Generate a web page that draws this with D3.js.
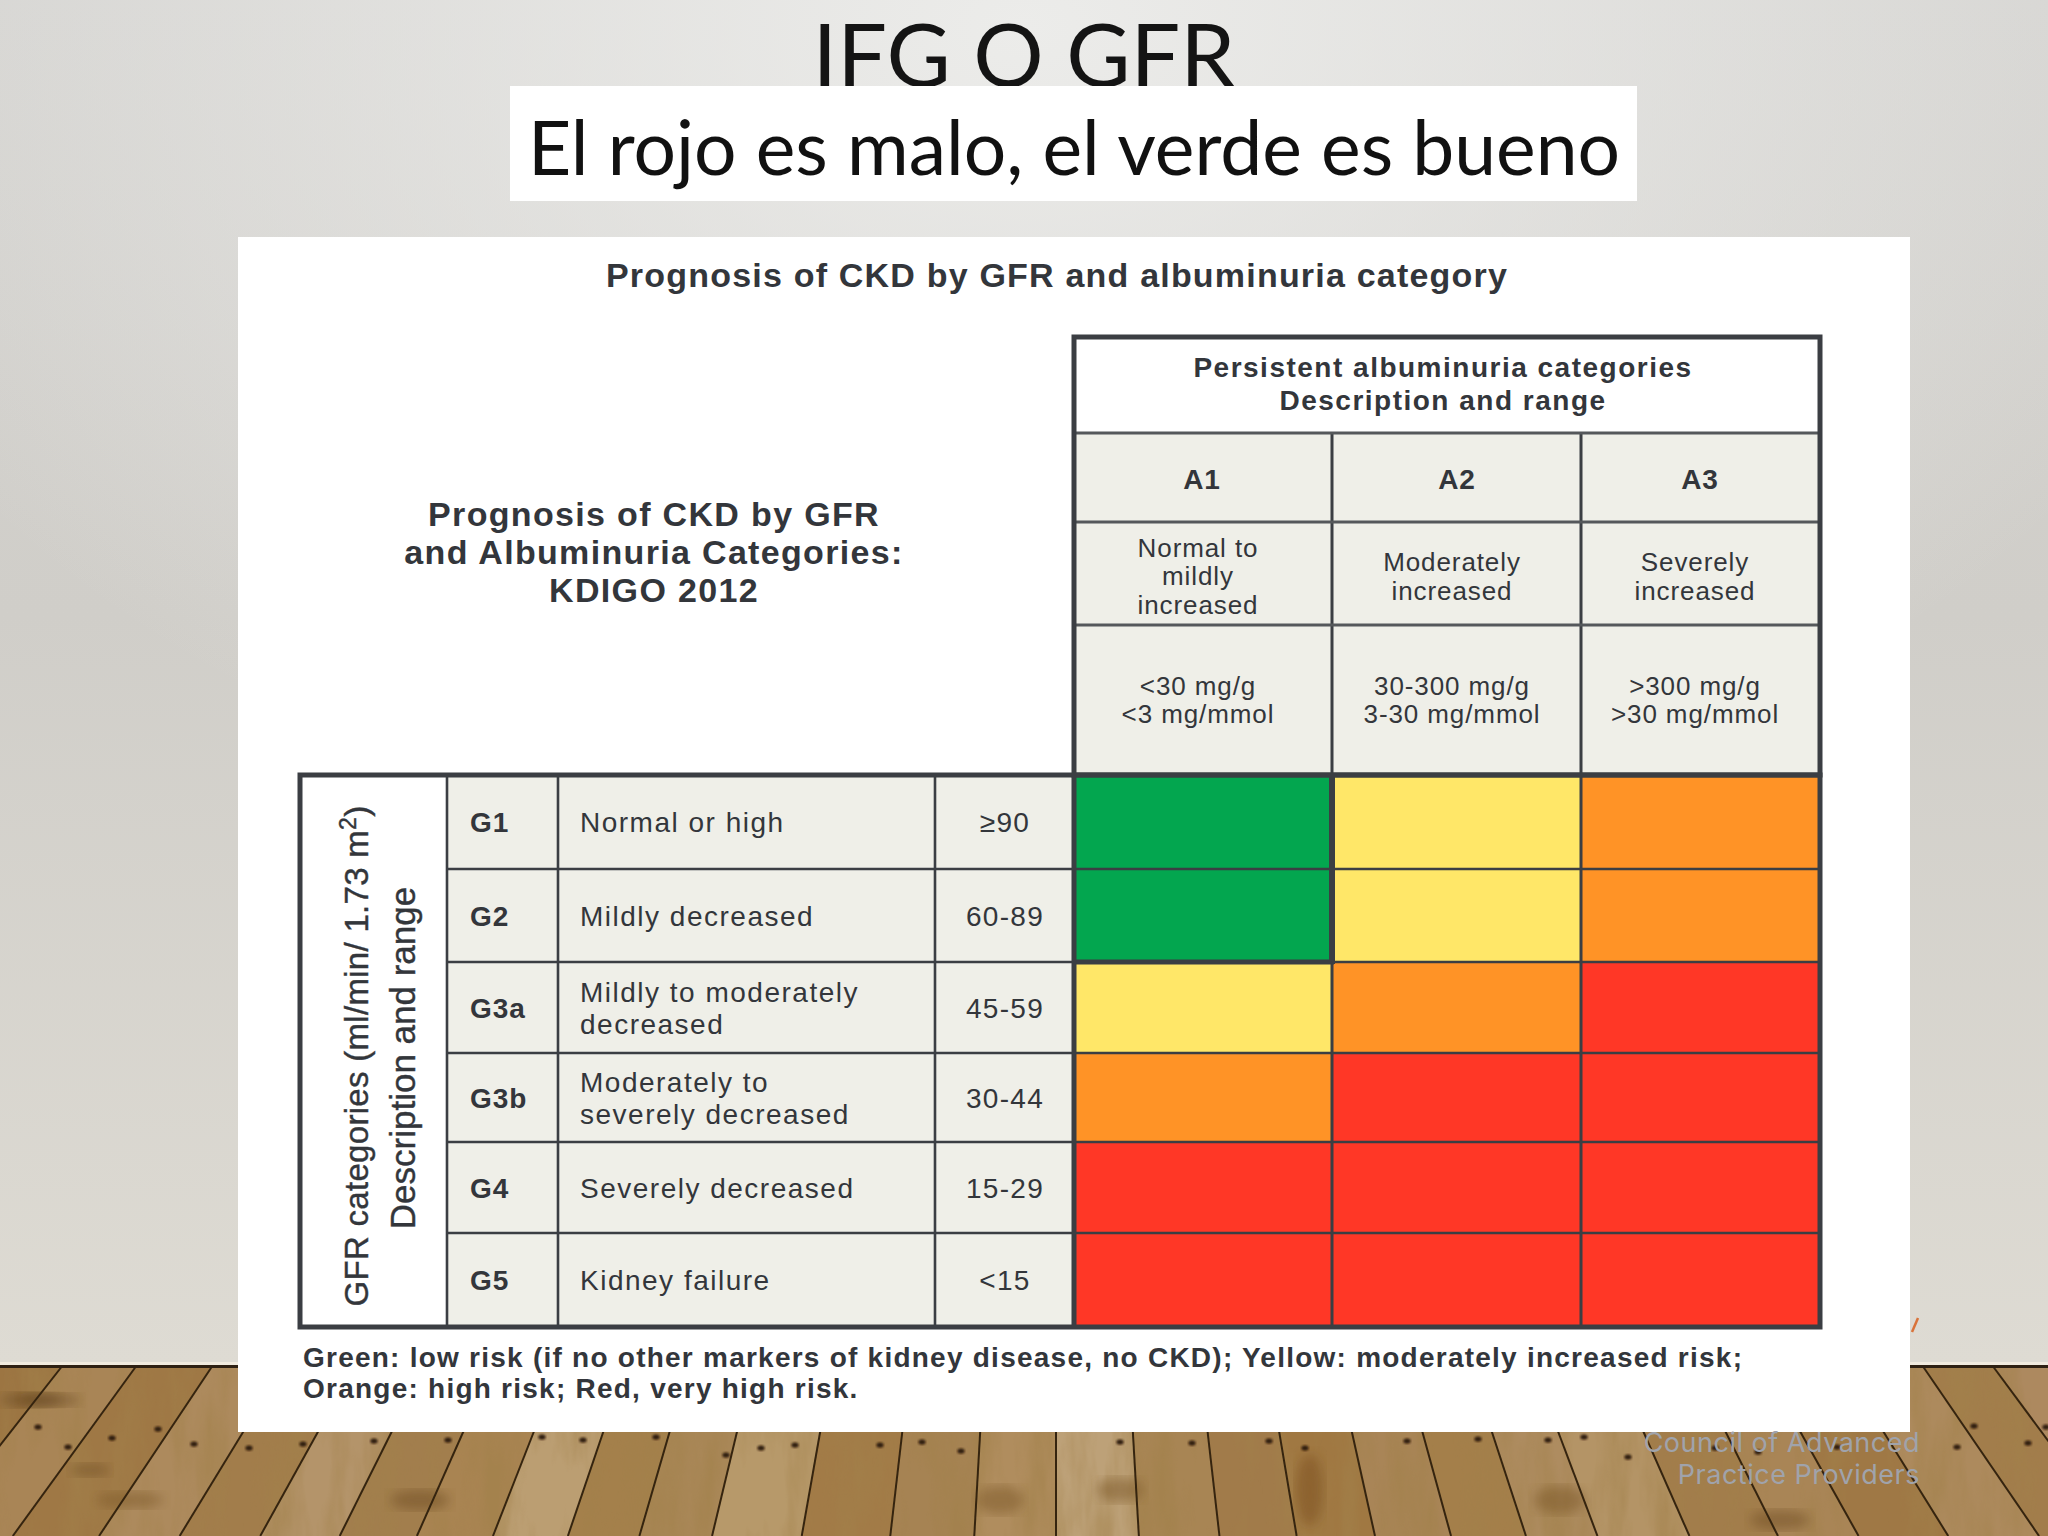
<!DOCTYPE html>
<html>
<head>
<meta charset="utf-8">
<script src="https://cdn.jsdelivr.net/npm/d3@7"></script>
<style>
  html, body { margin: 0; padding: 0; background: #d8d6d1; }
  svg { display: block; }
</style>
</head>
<body>
<div id="slide"></div>
<script>
const slideTitle = "IFG O GFR";
const slideSubtitle = "El rojo es malo, el verde es bueno";
const figureTitle = "Prognosis of CKD by GFR and albuminuria category";
const cornerTitle = ["Prognosis of CKD by GFR", "and Albuminuria Categories:", "KDIGO 2012"];
const albuminuriaHeading = ["Persistent albuminuria categories", "Description and range"];
const albuminuriaCategories = ["A1", "A2", "A3"];
const albuminuriaLabels = [["Normal to", "mildly", "increased"], ["Moderately", "increased"], ["Severely", "increased"]];
const albuminuriaRanges = [["<30 mg/g", "<3 mg/mmol"], ["30-300 mg/g", "3-30 mg/mmol"], [">300 mg/g", ">30 mg/mmol"]];
const gfrCategories = ["G1", "G2", "G3a", "G3b", "G4", "G5"];
const gfrLabels = [["Normal or high"], ["Mildly decreased"], ["Mildly to moderately", "decreased"], ["Moderately to", "severely decreased"], ["Severely decreased"], ["Kidney failure"]];
const gfrRanges = ["\u226590", "60-89", "45-59", "30-44", "15-29", "<15"];
const riskNames = ["low", "moderate", "high", "veryHigh"];
const riskColors = ["#03a64f", "#ffe768", "#ff9326", "#ff3726"];
// one row per GFR category, one value per albuminuria category
const riskG1 = ["low", "moderate", "high"];
const riskG2 = ["low", "moderate", "high"];
const riskG3a = ["moderate", "high", "veryHigh"];
const riskG3b = ["high", "veryHigh", "veryHigh"];
const riskG4 = ["veryHigh", "veryHigh", "veryHigh"];
const riskG5 = ["veryHigh", "veryHigh", "veryHigh"];
const riskRows = [riskG1, riskG2, riskG3a, riskG3b, riskG4, riskG5];
const legendLines = [
  "Green: low risk (if no other markers of kidney disease, no CKD); Yellow: moderately increased risk;",
  "Orange: high risk; Red, very high risk."
];
const watermark = ["Council of Advanced", "Practice Providers"];

// floor: plank seams as offsets from the vertical seam at the wall line
const seamOffsets = [-1140, -1065, -993, -919, -843, -772, -701, -631, -563, -496, -430, -367, -303, -224, -146, -72, 0, 73, 144, 212, 281, 348, 414, 477, 558, 636, 707, 786, 866, 936, 1010];
const plankTones = ["#a07a48", "#9c7542", "#a98556", "#9f7845", "#ad8a5d", "#a27d4b", "#b4946a", "#a27e4d", "#a98452", "#bb9e72", "#a4804b", "#a98757", "#b7996a", "#a27b47", "#a68353", "#b08d5e", "#bda178", "#a88554", "#a17b4a", "#a07842", "#a98557", "#a47f4a", "#ae8c60", "#b49466", "#a27d4b", "#a98556", "#9f7845", "#ad8a5d", "#a27d4b", "#ad895f"];
const knotsX = [38, 68, 112, 158, 194, 249, 303, 374, 448, 542, 583, 656, 726, 761, 795, 880, 922, 961, 1120, 1192, 1269, 1305, 1407, 1478, 1548, 1584, 1628, 1715, 1758, 1837, 1957, 1974, 2028, 2046];
const knotsY = [1427, 1447, 1438, 1429, 1444, 1448, 1444, 1441, 1440, 1437, 1440, 1437, 1455, 1448, 1445, 1445, 1442, 1451, 1442, 1443, 1441, 1448, 1441, 1439, 1440, 1437, 1457, 1448, 1452, 1447, 1447, 1426, 1443, 1427];
const stainsX = [30, 50, 130, 420, 90, 1310, 1000, 1120, 1560, 1780];
const stainsY = [1400, 1400, 1500, 1500, 1470, 1490, 1500, 1490, 1500, 1520];
const stainsW = [30, 30, 34, 30, 20, 14, 24, 24, 26, 30];
const stainsH = [7, 6, 8, 10, 6, 36, 14, 12, 14, 10];
const stainTones = ["#5e3f1a", "#5e3f1a", "#7a5626", "#6e4c20", "#6a4a20", "#7a4e1c", "#7a5626", "#7a5626", "#7a5626", "#6e4c20"];

const width = 2048, height = 1536;
const inkColor = "#33363b", gridColor = "#3b3e43", cellColor = "#efefe8";
const sans = "'Liberation Sans', Arial, sans-serif";
const titleFont = "Lato, 'Open Sans', sans-serif";

const x = d3.scaleLinear().domain([0, 1, 2, 3]).range([1074, 1332, 1581, 1820]);
const y = d3.scaleLinear().domain([0, 1, 2, 3, 4, 5, 6]).range([775, 869, 962, 1053, 1142, 1233, 1327]);
const riskColor = d3.scaleOrdinal(riskNames, riskColors);
const headerY = d3.scaleOrdinal(["top", "heading", "code", "label", "range"], [337, 433, 522, 625, 775]);
const gfrColX = d3.scaleOrdinal(["side", "code", "label", "range", "end"], [300, 447, 558, 935, 1074]);

const svg = d3.select("#slide").append("svg").attr("width", width).attr("height", height);
const defs = svg.append("defs");

const wallBase = defs.append("linearGradient").attr("id", "wallBase").attr("x1", 0).attr("x2", 0).attr("y1", 0).attr("y2", 1);
wallBase.append("stop").attr("offset", 0).attr("stop-color", "#d4d3d0");
wallBase.append("stop").attr("offset", 0.45).attr("stop-color", "#d0cec9");
wallBase.append("stop").attr("offset", 1).attr("stop-color", "#dedbd3");
const wallGlow = defs.append("radialGradient").attr("id", "wallGlow").attr("cx", 0.5).attr("cy", 0.02).attr("r", 0.62);
wallGlow.append("stop").attr("offset", 0).attr("stop-color", "#ececea").attr("stop-opacity", 1);
wallGlow.append("stop").attr("offset", 1).attr("stop-color", "#ececea").attr("stop-opacity", 0);
defs.append("filter").attr("id", "soft").append("feGaussianBlur").attr("stdDeviation", 6);
defs.append("filter").attr("id", "knotBlur").append("feGaussianBlur").attr("stdDeviation", 0.8);
// wood grain, a stretched noise turned into brown with varying alpha
const grain = defs.append("filter").attr("id", "grain").attr("x", 0).attr("y", 0).attr("width", 1).attr("height", 1);
grain.append("feTurbulence").attr("type", "fractalNoise").attr("baseFrequency", "0.035 0.007").attr("numOctaves", 4).attr("seed", 7);
grain.append("feColorMatrix").attr("type", "matrix").attr("values", "0 0 0 0 0.36  0 0 0 0 0.22  0 0 0 0 0.07  2.6 0 0 0 -1.05");

function drawBackground() {
  const floorTop = 1365, vanishY = 100, seamX = 1056;
  svg.append("rect").attr("width", width).attr("height", floorTop).attr("fill", "url(#wallBase)");
  svg.append("rect").attr("width", width).attr("height", floorTop).attr("fill", "url(#wallGlow)");

  // seams fan out from a vanishing point above the floor
  const spread = d3.scaleLinear().domain([vanishY, floorTop]).range([0, 1]);
  const seamAt = (off, yy) => seamX + off * spread(yy);
  const floor = svg.append("g");
  floor.selectAll("path.plank").data(d3.pairs(seamOffsets)).join("path")
    .attr("class", "plank")
    .attr("fill", (d, i) => plankTones[i % plankTones.length])
    .attr("d", d => `M${seamAt(d[0], floorTop)},${floorTop}L${seamAt(d[1], floorTop)},${floorTop}L${seamAt(d[1], height)},${height}L${seamAt(d[0], height)},${height}Z`);
  floor.append("rect").attr("y", floorTop).attr("width", width).attr("height", height - floorTop)
    .attr("filter", "url(#grain)").attr("opacity", 0.6);
  floor.selectAll("ellipse.stain").data(stainsX).join("ellipse")
    .attr("class", "stain")
    .attr("cx", d => d)
    .attr("cy", (d, i) => stainsY[i])
    .attr("rx", (d, i) => stainsW[i])
    .attr("ry", (d, i) => stainsH[i])
    .attr("fill", (d, i) => stainTones[i])
    .attr("opacity", 0.5)
    .attr("filter", "url(#soft)");
  floor.selectAll("path.seam").data(seamOffsets).join("path")
    .attr("class", "seam")
    .attr("fill", "none")
    .attr("stroke", "#35240f")
    .attr("stroke-width", 2)
    .attr("d", d => `M${seamAt(d, floorTop)},${floorTop}L${seamAt(d, height)},${height}`);
  floor.selectAll("ellipse.knot").data(knotsX).join("ellipse")
    .attr("class", "knot")
    .attr("cx", d => d)
    .attr("cy", (d, i) => knotsY[i])
    .attr("rx", 3.6)
    .attr("ry", 2.6)
    .attr("fill", "#2e1c0c")
    .attr("filter", "url(#knotBlur)");

  svg.append("rect").attr("y", floorTop - 3).attr("width", width).attr("height", 3).attr("fill", "#f1ebdf");
  svg.append("rect").attr("y", floorTop).attr("width", width).attr("height", 3).attr("fill", "#2e2012");
  svg.append("line").attr("x1", 1912).attr("y1", 1332).attr("x2", 1918).attr("y2", 1318).attr("stroke", "#d9733a").attr("stroke-width", 2.5);
}

function label(g, text, px, py, opts) {
  const o = Object.assign({ size: 26, weight: 400, anchor: "middle", fill: inkColor, family: sans, spacing: 0.9 }, opts);
  return g.append("text")
    .attr("x", px).attr("y", py)
    .attr("dy", "0.36em")
    .attr("text-anchor", o.anchor)
    .attr("font-family", o.family)
    .attr("font-size", o.size)
    .attr("font-weight", o.weight)
    .attr("letter-spacing", o.spacing)
    .attr("fill", o.fill)
    .text(text);
}

function stack(g, lines, px, py, step, opts) {
  const top = py - step * (lines.length - 1) / 2;
  lines.forEach((line, i) => label(g, line, px, top + i * step, opts));
}

function drawTitles() {
  svg.append("text")
    .attr("x", 1024).attr("y", 87)
    .attr("text-anchor", "middle")
    .attr("font-family", titleFont).attr("font-size", 88).attr("fill", "#141414")
    .text(slideTitle);
  svg.append("rect").attr("x", 510).attr("y", 86).attr("width", 1127).attr("height", 115).attr("fill", "#fff");
  svg.append("text")
    .attr("x", 1074).attr("y", 175)
    .attr("text-anchor", "middle")
    .attr("font-family", titleFont).attr("font-size", 75).attr("fill", "#111")
    .text(slideSubtitle);
}

function drawFigure() {
  svg.append("rect").attr("x", 238).attr("y", 237).attr("width", 1672).attr("height", 1195).attr("fill", "#fff");
  const g = svg.append("g");
  label(g, figureTitle, 1057, 275, { size: 34, weight: 700, spacing: 1.2 });
  stack(g, cornerTitle, 654, 552, 38, { size: 34, weight: 700, spacing: 1.33 });

  // albuminuria header block
  const headerRows = ["code", "label", "range"];
  const prevRow = { code: "heading", label: "code", range: "label" };
  albuminuriaCategories.forEach((c, i) => {
    headerRows.forEach(r => {
      g.append("rect")
        .attr("x", x(i)).attr("y", headerY(prevRow[r]))
        .attr("width", x(i + 1) - x(i)).attr("height", headerY(r) - headerY(prevRow[r]))
        .attr("fill", cellColor);
    });
  });
  stack(g, albuminuriaHeading, 1443, 383, 33, { size: 28, weight: 700, spacing: 1.5 });
  const codeX = [1202, 1457, 1700], textX = [1198, 1452, 1695];
  albuminuriaCategories.forEach((c, i) => {
    label(g, c, codeX[i], 479, { size: 28, weight: 700 });
    stack(g, albuminuriaLabels[i], textX[i], 576, 28.5, { size: 26 });
    stack(g, albuminuriaRanges[i], textX[i], 700, 28, { size: 26 });
  });

  // gfr block
  gfrCategories.forEach((c, i) => {
    g.append("rect")
      .attr("x", gfrColX("code")).attr("y", y(i))
      .attr("width", gfrColX("end") - gfrColX("code")).attr("height", y(i + 1) - y(i))
      .attr("fill", cellColor);
    const mid = (y(i) + y(i + 1)) / 2;
    label(g, c, gfrColX("code") + 23, mid, { size: 28, weight: 700, anchor: "start" });
    stack(g, gfrLabels[i], gfrColX("label") + 22, mid, 32, { size: 28, anchor: "start", spacing: 1.5 });
    label(g, gfrRanges[i], 1005, mid, { size: 28, spacing: 1.3 });
  });

  // risk cells
  riskRows.forEach((row, r) => {
    g.selectAll(null).data(row).join("rect")
      .attr("x", (d, c) => x(c))
      .attr("y", y(r))
      .attr("width", (d, c) => x(c + 1) - x(c))
      .attr("height", y(r + 1) - y(r))
      .attr("fill", d => riskColor(d));
  });

  // thin rules
  const rule = (x1, y1, x2, y2, w, col) => g.append("line")
    .attr("x1", x1).attr("y1", y1).attr("x2", x2).attr("y2", y2)
    .attr("stroke", col || gridColor).attr("stroke-width", w);
  [1, 2, 3, 4, 5].forEach(i => rule(gfrColX("code"), y(i), x(3), y(i), 2.4));
  ["code", "label", "range"].forEach(k => rule(gfrColX(k), y(0), gfrColX(k), y(6), 2.6));
  [1, 2].forEach(i => rule(x(i), headerY("heading"), x(i), y(6), 3));
  ["heading", "code", "label"].forEach(k => rule(x(0), headerY(k), x(3), headerY(k), 3, "#55585b"));

  // heavy frames, the low-risk corner keeps its own frame
  rule(x(0), y(2), x(1) + 2, y(2), 5);
  rule(x(1), y(0), x(1), y(2) + 2, 6);
  const frame = (x1, y1, x2, y2) => g.append("rect")
    .attr("x", x1).attr("y", y1).attr("width", x2 - x1).attr("height", y2 - y1)
    .attr("fill", "none").attr("stroke", gridColor).attr("stroke-width", 5);
  frame(x(0), headerY("top"), x(3), y(0));
  frame(gfrColX("side"), y(0), x(3), y(6));
  rule(x(0), y(0), x(0), y(6), 5);

  // rotated axis titles
  const side = g.append("g").attr("font-family", sans).attr("fill", inkColor)
    .attr("stroke", inkColor).attr("stroke-width", 0.4).attr("text-anchor", "middle");
  const gfrTitle = side.append("text").attr("transform", "translate(356,1056) rotate(-90)").attr("dy", "0.36em").attr("font-size", 33).attr("letter-spacing", 0.3);
  gfrTitle.append("tspan").text("GFR categories (ml/min/ 1.73 m");
  gfrTitle.append("tspan").attr("dy", -12).attr("font-size", 23).text("2");
  gfrTitle.append("tspan").attr("dy", 12).text(")");
  side.append("text").attr("transform", "translate(402,1058) rotate(-90)").attr("dy", "0.36em").attr("font-size", 35).text("Description and range");

  legendLines.forEach((line, i) => label(g, line, 303, 1357 + i * 31, { size: 28, weight: 700, anchor: "start", spacing: 1.24 }));
}

function drawWatermark() {
  const g = svg.append("g");
  watermark.forEach((line, i) => label(g, line, 1920, 1442 + i * 32, { size: 27, anchor: "end", fill: "#a0a3ab", family: "Inter, sans-serif", spacing: 0.5 }));
}

window.onload = () => {
  drawBackground();
  drawTitles();
  drawFigure();
  drawWatermark();
};
</script>
</body>
</html>
